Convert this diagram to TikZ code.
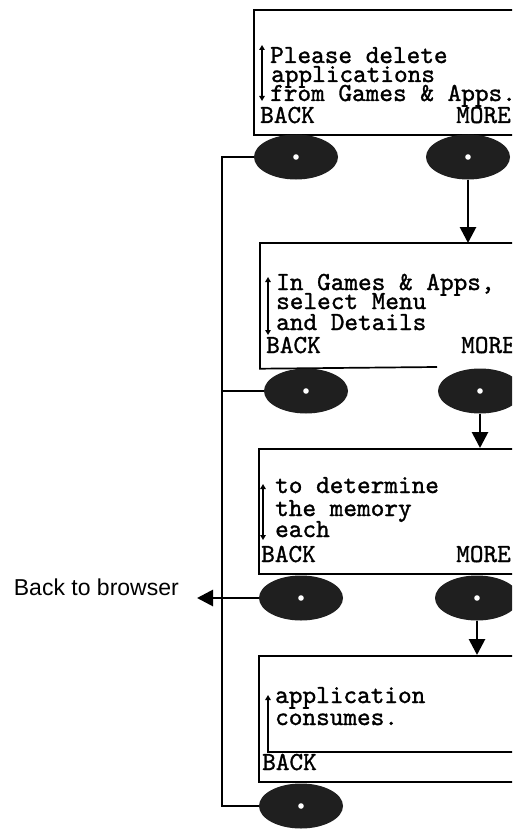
\documentclass[tikz,border=0pt]{standalone}
\usepackage{fontspec}
\setmainfont{Liberation Sans}
\newfontfamily\lcdfont{lmmono10-regular}[Extension=.otf, FakeBold=1.2]
\usetikzlibrary{shapes.geometric,arrows.meta}
\begin{document}
\begin{tikzpicture}[x=1pt,y=-1pt,
  screenline/.style={line width=1.7pt},
  screen/.style={draw, screenline, minimum width=290pt, anchor=north west, inner sep=0pt},
  btn/.style={ellipse, fill=black!88, minimum width=84pt, minimum height=45pt, inner sep=0pt,
    path picture={\fill[white] (path picture bounding box.center) circle (2.8pt);}},
  lcd/.style={font=\lcdfont\fontsize{26}{27}\selectfont, anchor=base west, inner sep=0pt},
  conn/.style={line width=2.8pt},
  arr/.style={conn, -{Triangle[width=16pt,length=16pt]}},
  scroll/.style={line width=1.3pt, {Triangle[width=5.5pt,length=5pt]}-{Triangle[width=5.5pt,length=5pt]}},
  upscroll/.style={line width=1.3pt, {Triangle[width=5.5pt,length=5pt]}-},
]
\useasboundingbox (0,0) rectangle (512,832);
\clip (0,0) rectangle (512,832);

% screens
\node[screen, minimum height=125pt] (s1) at (253,9) {};
\node[screen, draw=none, minimum height=124pt] (s2) at (260,243) {};
\coordinate (s2cut) at (437,367);
\draw[screenline] (s2cut) -- (s2.south west) -- (s2.north west) -- (s2.north east) -- (s2.south east);
\node[screen, minimum height=125pt] (s3) at (258,448) {};
\node[screen, minimum height=126pt] (s4) at (258,655) {};

% screen 1 text
\node[lcd] (t1a) at (270,63) {Please delete};
\node[lcd] (t1b) at (271,82) {applications};
\node[lcd] (t1c) at (270,101) {from Games \& Apps.};
\node[lcd] (t1k) at (260,123) {BACK};
\node[lcd] (t1m) at (456,123) {MORE};
\draw[scroll] (262,45) -- (262,101);

% screen 2 text
\node[lcd] (t2a) at (276,290) {In Games \& Apps,};
\node[lcd] (t2b) at (276,309) {select Menu};
\node[lcd] (t2c) at (276,330) {and Details};
\node[lcd] (t2k) at (266,353) {BACK};
\node[lcd] (t2m) at (461,353) {MORE};
\draw[scroll] (268,277) -- (268,335);

% screen 3 text
\node[lcd] (t3a) at (275,493) {to determine};
\node[lcd] (t3b) at (275,516) {the memory};
\node[lcd] (t3c) at (275,537) {each};
\node[lcd] (t3k) at (261,562) {BACK};
\node[lcd] (t3m) at (456,562) {MORE};
\draw[scroll] (263,484) -- (263,540);

% screen 4 text
\node[lcd] (t4a) at (275,703) {application};
\node[lcd] (t4b) at (275,725) {consumes.};
\node[lcd] (t4k) at (262,770) {BACK};
\draw[upscroll] (268,695) -- (268,752) -- (530,752);

% buttons
\node[btn] (b1) at (296,157) {};
\node[btn] (m1) at (468,157) {};
\node[btn] (b2) at (306,391) {};
\node[btn] (m2) at (480,391) {};
\node[btn] (b3) at (301,598) {};
\node[btn] (m3) at (477,598) {};
\node[btn] (b4) at (301,806) {};

% MORE connectors
\draw[arr] (m1.south) -- (m1.south |- s2.north);
\draw[arr] (m2.south) -- (m2.south |- s3.north);
\draw[arr] (m3.south) -- (m3.south |- s4.north);

% BACK connectors
\coordinate (L1) at (222,157);
\coordinate (L4) at (222,806);
\draw[conn] (b1.west) -- (L1) -- (L4) -- (b4.west);
\draw[conn] (b2.west) -- (b2.west -| L1);
\coordinate (B) at (197,598);
\draw[arr] (b3.west) -- (B);
\node[font=\fontsize{23}{26}\selectfont, anchor=east, inner sep=0pt] (browser) at (179,587) {Back to browser};
\end{tikzpicture}
\end{document}
